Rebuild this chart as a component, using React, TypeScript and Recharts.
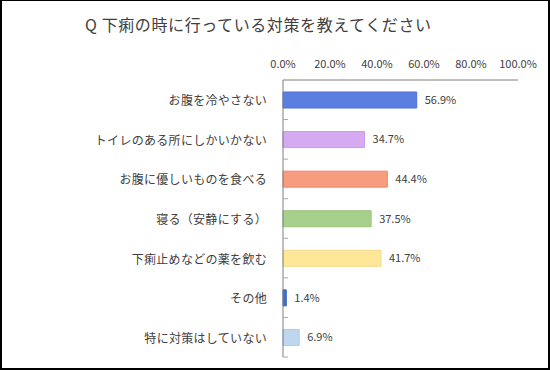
import React from "react";
import { BarChart, Bar, XAxis, YAxis, Cell, LabelList } from "recharts";

const title = "Q 下痢の時に行っている対策を教えてください";
const categories = [
  "お腹を冷やさない",
  "トイレのある所にしかいかない",
  "お腹に優しいものを食べる",
  "寝る（安静にする）",
  "下痢止めなどの薬を飲む",
  "その他",
  "特に対策はしていない",
];
const values = [0.569, 0.347, 0.444, 0.375, 0.417, 0.014, 0.069];
const fills = ["#5b7fe0", "#d5aaf0", "#f89c7f", "#a8d08d", "#ffe699", "#4472c4", "#bdd7ee"];
const strokes = ["#4a6fd8", "#c99ce8", "#f08a6c", "#98c47c", "#f5da88", "#3a64b4", "#aecbe6"];
const xTicks = [0, 0.2, 0.4, 0.6, 0.8, 1.0];

const data = categories.map((name, i) => ({ name, value: values[i] }));

const FONT = "'Noto Sans CJK JP', 'Noto Sans', sans-serif";

const CatTick = (props: any) => {
  const { x, y, payload } = props;
  const band = 277 / 7;
  return (
    <g>
      <text x={x} y={y} textAnchor="end" dominantBaseline="central" fontSize={12} letterSpacing={0.3} fill="#404040" fontFamily={FONT}>
        {payload.value}
      </text>
      <line x1={x + 16} x2={x + 21} y1={y + band / 2} y2={y + band / 2} stroke="#a6a6a6" strokeWidth={1} />
    </g>
  );
};

export default function App() {
  return (
    <div
      style={{
        position: "absolute",
        left: 0,
        top: 0,
        width: 550,
        height: 370,
        boxSizing: "border-box",
        borderTop: "1px solid #000",
        borderLeft: "2px solid #000",
        borderRight: "2px solid #000",
        borderBottom: "2px solid #000",
        background: "#fff",
        fontFamily: FONT,
      }}
    >
      <div
        style={{
          position: "absolute",
          left: 83,
          top: 11,
          fontSize: 16,
          color: "#404040",
          whiteSpace: "nowrap",
          letterSpacing: 0.6,
        }}
      >
        {title}
      </div>
      <div style={{ position: "absolute", left: -2, top: -1 }}>
        <BarChart
          width={550}
          height={370}
          data={data}
          layout="vertical"
          margin={{ top: 50, right: 32, bottom: 13, left: 0 }}
        >
          <XAxis
            type="number"
            orientation="top"
            domain={[0, 1]}
            ticks={xTicks}
            height={30}
            tickFormatter={(v: number) => (v * 100).toFixed(1) + "%"}
            axisLine={{ stroke: "#7f7f7f" }}
            tickLine={false}
            tickSize={6}
            tickMargin={6}
            tick={{ fontSize: 11, fill: "#404040", fontFamily: FONT }}
            interval={0}
          />
          <YAxis
            type="category"
            dataKey="name"
            width={283}
            axisLine={{ stroke: "#7f7f7f" }}
            tickLine={false}
            tickSize={0}
            tickMargin={16}
            tick={<CatTick />}
            interval={0}
          />
          <Bar dataKey="value" isAnimationActive={false} strokeWidth={1} barSize={16}>
            {data.map((d, i) => (
              <Cell key={d.name} fill={fills[i]} stroke={strokes[i]} />
            ))}
            <LabelList
              dataKey="value"
              position="right"
              offset={8}
              formatter={(v: number) => (v * 100).toFixed(1) + "%"}
              style={{ fontSize: 11, fill: "#404040", fontFamily: FONT }}
            />
          </Bar>
        </BarChart>
      </div>
    </div>
  );
}
